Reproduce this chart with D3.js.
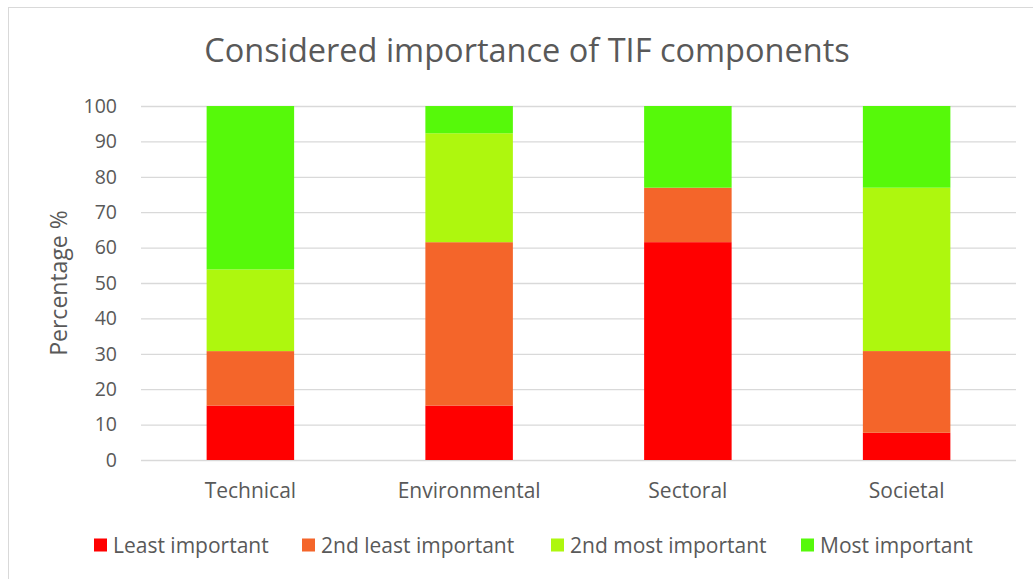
<!DOCTYPE html>
<html><head><meta charset="utf-8">
<script src="https://cdn.jsdelivr.net/npm/d3@7"></script>
<style>body{margin:0;background:#fff;} svg{display:block;font-family:"Open Sans",sans-serif;}</style>
</head><body><svg id="c" width="1033" height="579"></svg>
<script>
const categories = ["Technical","Environmental","Sectoral","Societal"];
const seriesNames = ["Least important","2nd least important","2nd most important","Most important"];
const leastImportant = [15.38, 15.38, 61.54, 7.69];
const secondLeast = [15.38, 46.15, 15.38, 23.08];
const secondMost = [23.08, 30.77, 0, 46.15];
const mostImportant = [46.15, 7.69, 23.08, 23.08];
const yTicks = [0,10,20,30,40,50,60,70,80,90,100];
const colors = ["#FF0000","#F4652A","#AEF70E","#56F90A"];

const rows = categories.map((c,i)=>({cat:c,
  [seriesNames[0]]:leastImportant[i],[seriesNames[1]]:secondLeast[i],
  [seriesNames[2]]:secondMost[i],[seriesNames[3]]:mostImportant[i]}));
const stack = d3.stack().keys(seriesNames)(rows);

const svg = d3.select("#c");
svg.append("rect").attr("x",8.5).attr("y",7.5).attr("width",1040).attr("height",600)
  .attr("fill","#fff").attr("stroke","#d9d9d9");

const pL=141,pR=1016,pT=106,pB=460;
const x = d3.scaleBand().domain(categories).range([pL,pR]).paddingInner(0.6).paddingOuter(0.3);
const y = d3.scaleLinear().domain([0,100]).range([pB,pT]);

svg.append("text").attr("x",527).attr("y",62).attr("text-anchor","middle")
  .attr("font-size",32.5).attr("fill","#595959").text("Considered importance of TIF components");

const grid = svg.append("g");
grid.selectAll("line").data(yTicks).join("line")
  .attr("x1",pL).attr("x2",pR).attr("y1",d=>y(d)+0.5).attr("y2",d=>y(d)+0.5)
  .attr("stroke","#d9d9d9").attr("stroke-width",1.3);

const yAxis = svg.append("g").attr("transform",`translate(${pL},0)`)
  .call(d3.axisLeft(y).tickValues(yTicks).tickSize(0).tickPadding(24));
yAxis.select(".domain").remove();
yAxis.selectAll("text").attr("font-size",19.5).attr("fill","#595959").attr("font-family","Open Sans");

svg.append("text").attr("transform","translate(67,283) rotate(-90)").attr("text-anchor","middle")
  .attr("font-size",23).attr("fill","#595959").text("Percentage %");

svg.append("g").selectAll("g").data(stack).join("g").attr("fill",(d,i)=>colors[i])
  .selectAll("rect").data(d=>d).join("rect")
  .attr("x",d=>x(d.data.cat)).attr("width",x.bandwidth())
  .attr("y",d=>y(d[1])).attr("height",d=>y(d[0])-y(d[1]));

const xAxis = svg.append("g").attr("transform",`translate(0,${pB})`)
  .call(d3.axisBottom(x).tickSize(0).tickPadding(23));
xAxis.select(".domain").remove();
xAxis.selectAll("text").attr("font-size",21).attr("fill","#595959").attr("font-family","Open Sans");

const legX = [94,302,551,801];
const leg = svg.append("g").selectAll("g").data(seriesNames).join("g")
  .attr("transform",(d,i)=>`translate(${legX[i]},545)`);
leg.append("rect").attr("x",0).attr("y",-6.5).attr("width",13).attr("height",13).attr("fill",(d,i)=>colors[i]);
leg.append("text").attr("x",19).attr("y",8).attr("font-size",21).attr("fill","#595959").text(d=>d);
</script></body></html>
